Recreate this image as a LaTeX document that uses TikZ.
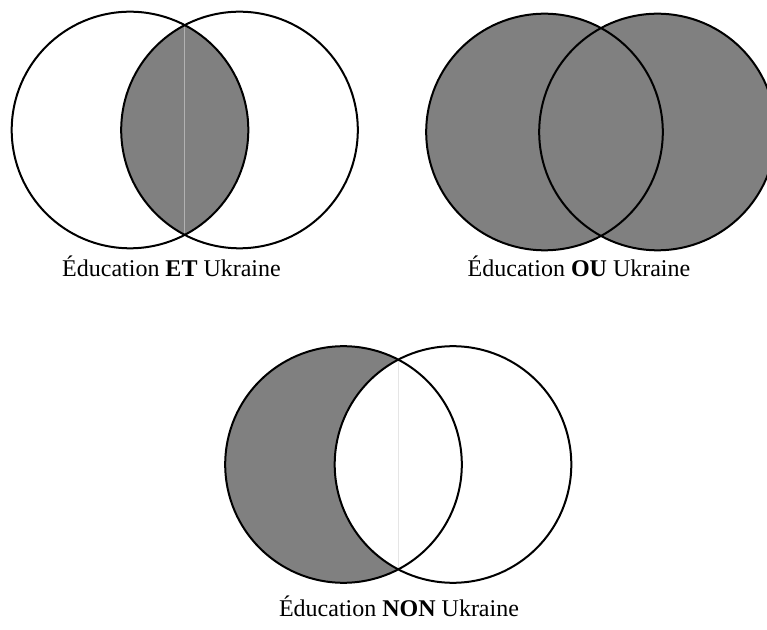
\documentclass[tikz,border=0pt]{standalone}
\usepackage{fontspec}
\setmainfont{Liberation Serif}
\begin{document}
\begin{tikzpicture}[x=0.75pt,y=-0.75pt,
  ring/.style={draw=black,line width=1.5pt},
  shade/.style={fill=black!50},
  seam/.style={line width=0.5pt},
  caption/.style={font=\fontsize{18}{21}\selectfont,inner sep=0pt}]
\useasboundingbox (0,0) rectangle (767,630);
\clip (0,0) rectangle (767,630);
\def\R{118.3}

% intersection: Education ET Ukraine
\coordinate (a1) at (130,130);
\coordinate (a2) at (239.5,130);
\begin{scope}
  \clip (a1) circle (\R);
  \fill[shade] (a2) circle (\R);
\end{scope}
\draw[seam,draw=black!30] (184.75,26) -- (184.75,234);
\draw[ring] (a1) circle (\R);
\draw[ring] (a2) circle (\R);
\node[caption] (lab1) at (171.5,266) {Éducation \textbf{ET} Ukraine};

% union: Education OU Ukraine
\coordinate (b1) at (544.5,132);
\coordinate (b2) at (657.5,132);
\fill[shade] (b1) circle (\R);
\fill[shade] (b2) circle (\R);
\draw[ring] (b1) circle (\R);
\draw[ring] (b2) circle (\R);
\node[caption] (lab2) at (579,266) {Éducation \textbf{OU} Ukraine};

% difference: Education NON Ukraine
\coordinate (c1) at (343.5,464.5);
\coordinate (c2) at (453,464.5);
\fill[shade] (c1) circle (\R);
\begin{scope}
  \clip (c1) circle (\R);
  \fill[white] (c2) circle (\R);
\end{scope}
\draw[seam,draw=black!10] (398.25,361) -- (398.25,568);
\draw[ring] (c1) circle (\R);
\draw[ring] (c2) circle (\R);
\node[caption] (lab3) at (399,606) {Éducation \textbf{NON} Ukraine};
\end{tikzpicture}
\end{document}
